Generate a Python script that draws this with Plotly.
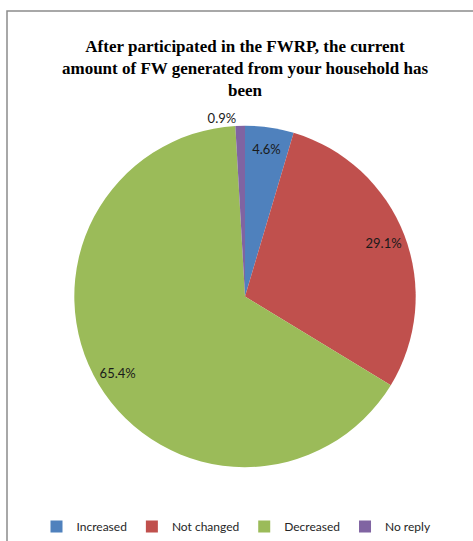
import plotly.graph_objects as go

categories = ["Increased", "Not changed", "Decreased", "No reply"]
values = [4.6, 29.1, 65.4, 0.9]
colors = ["#4F81BD", "#C0504D", "#9BBB59", "#8064A2"]
title_text = ("<b>After participated in the FWRP, the current<br>"
              "amount of FW generated from your household has<br>been</b>")

W, H = 473, 541
cx, cy, R = 245, 297, 171
domain = dict(x=[(cx - R) / W, (cx + R) / W], y=[1 - (cy + R) / H, 1 - (cy - R) / H])

fig = go.Figure()
# coloured slices
fig.add_trace(go.Pie(
    labels=categories, values=values,
    marker=dict(colors=colors, line=dict(width=0)),
    sort=False, direction="clockwise", rotation=0,
    textinfo="none", hoverinfo="label+percent",
    domain=domain,
))
# transparent ring carrying the data labels near the rim
fig.add_trace(go.Pie(
    labels=categories, values=values,
    marker=dict(colors=["rgba(0,0,0,0)"] * 4, line=dict(width=0)),
    hole=0.74, sort=False, direction="clockwise", rotation=0,
    texttemplate="%{value:.1f}%",
    textposition=["inside", "inside", "inside", "outside"],
    insidetextorientation="horizontal",
    textfont=dict(family="Lato", size=13, color="#1a1a1a"),
    outsidetextfont=dict(family="Lato", size=13, color="#1a1a1a"),
    hoverinfo="skip", showlegend=False,
    domain=domain,
))

fig.update_layout(
    width=W, height=H,
    margin=dict(l=0, r=0, t=0, b=0),
    paper_bgcolor="white",
    title=dict(text=title_text, x=245 / W, xanchor="center", y=1 - 52 / H, yanchor="top",
               yref="container", xref="container",
               font=dict(family="Liberation Serif", size=17, color="black")),
    legend=dict(orientation="h", x=0.5, xanchor="center", y=1 - 527 / H, yanchor="middle",
                font=dict(family="Lato", size=12, color="#262626"), traceorder="normal"),
    shapes=[dict(type="rect", xref="paper", yref="paper", x0=7 / W, x1=1.1, y0=-0.1, y1=1 - 11 / H,
                 line=dict(color="#8c8c8c", width=1.5), fillcolor="rgba(0,0,0,0)", layer="below")],
)

fig.write_html("out.html", config={"displayModeBar": False},
               post_script="document.body.style.margin='0px';")
